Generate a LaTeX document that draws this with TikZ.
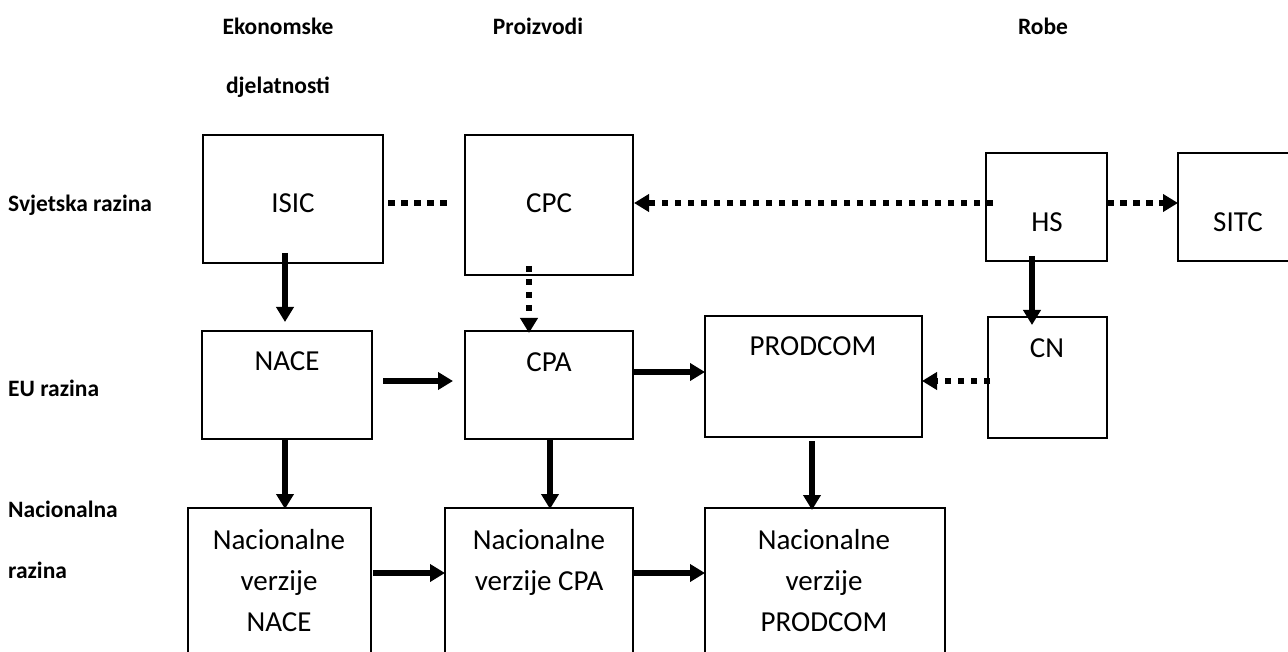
\documentclass[tikz,border=0pt]{standalone}
\usepackage{fontspec}
\setmainfont{Carlito}
\usetikzlibrary{arrows.meta}
\begin{document}
\begin{tikzpicture}[x=1pt,y=-1pt,
  box/.style={draw=black,line width=1.8pt,rectangle,inner sep=0pt,outer sep=0pt},
  btxt/.style={anchor=base,inner sep=0pt,font=\fontsize{29}{35}\selectfont},
  lbl/.style={anchor=base,inner sep=0pt,font=\fontsize{23.5}{28}\selectfont\bfseries},
  lbll/.style={anchor=base west,inner sep=0pt,font=\fontsize{23.5}{28}\selectfont\bfseries},
  solidarrow/.style={line width=5.5pt,-{Triangle[length=15pt,width=17pt]}},
  dotline/.style={line width=6pt,dash pattern=on 6.5pt off 6.5pt},
  dotarrow/.style={line width=6pt,dash pattern=on 6.5pt off 6.5pt,-{Triangle[length=15pt,width=17pt]}}
]
\useasboundingbox (0,0) rectangle (1288,652);
\clip (0,0) rectangle (1288,652);
\fill[white] (0,0) rectangle (1288,652);

% header labels
\node[lbl] (hEko) at (278,34.5) {Ekonomske};
\node[lbl] (hDje) at (278,94) {djelatnosti};
\node[lbl] (hPro) at (538,34.5) {Proizvodi};
\node[lbl] (hRob) at (1043,34.5) {Robe};
% row labels
\node[lbll] (rSvj) at (8,212) {Svjetska razina};
\node[lbll] (rEU) at (8,396) {EU razina};
\node[lbll] (rNac) at (8,517) {Nacionalna};
\node[lbll] (rRaz) at (8,578) {razina};

% boxes
\node[box,minimum width=180pt,minimum height=128pt] (isic) at (293,199) {};
\node[box,minimum width=168pt,minimum height=140pt] (cpc) at (549,205) {};
\node[box,minimum width=121pt,minimum height=108pt] (hs) at (1046.5,207) {};
\node[box,minimum width=132pt,minimum height=108pt] (sitc) at (1244,207) {};
\node[box,minimum width=170pt,minimum height=108pt] (nace) at (287,385) {};
\node[box,minimum width=168pt,minimum height=108pt] (cpa) at (549,385) {};
\node[box,minimum width=217pt,minimum height=121pt] (prodcom) at (813.5,376.5) {};
\node[box,minimum width=119pt,minimum height=121pt] (cn) at (1047.5,377.5) {};
\node[box,minimum width=183pt,minimum height=172pt] (nnace) at (279.5,594) {};
\node[box,minimum width=188pt,minimum height=172pt] (ncpa) at (539,594) {};
\node[box,minimum width=240pt,minimum height=172pt] (nprod) at (825,594) {};

% box texts
\node[btxt] (tIsic) at (293,212.3) {ISIC};
\node[btxt] (tCpc) at (549,212.3) {CPC};
\node[btxt] (tHs) at (1047,231.3) {HS};
\node[btxt] (tSitc) at (1238,231.3) {SITC};
\node[btxt] (tNace) at (287,370.3) {NACE};
\node[btxt] (tCpa) at (549,371.3) {CPA};
\node[btxt] (tProd) at (813,355.3) {PRODCOM};
\node[btxt] (tCn) at (1047,357.3) {CN};
\node[btxt] (tNn1) at (279,549) {Nacionalne};
\node[btxt] (tNn2) at (279,590) {verzije};
\node[btxt] (tNn3) at (279,631) {NACE};
\node[btxt] (tNc1) at (539,549) {Nacionalne};
\node[btxt] (tNc2) at (539,590) {verzije CPA};
\node[btxt] (tNp1) at (824,549) {Nacionalne};
\node[btxt] (tNp2) at (824,590) {verzije};
\node[btxt] (tNp3) at (824,631) {PRODCOM};

% connectors
\draw[solidarrow] ([xshift=-8pt,yshift=10pt]isic.south) -- ([xshift=-2pt,yshift=9pt]nace.north);
\draw[dotline] ([xshift=5pt,yshift=-4pt]isic.east) -- ([xshift=-12pt,yshift=2pt]cpc.west);
\draw[dotarrow] ([xshift=7pt,yshift=4pt]hs.west) -- ([xshift=1pt,yshift=2pt]cpc.east);
\draw[dotarrow] ([yshift=4pt]hs.east) -- ([yshift=4pt]sitc.west);
\draw[dotarrow] ([xshift=-20pt,yshift=9pt]cpc.south) -- ([xshift=-20pt,yshift=-2pt]cpa.north);
\draw[solidarrow] ([xshift=-14.5pt,yshift=5pt]hs.south) -- ([xshift=-15.5pt,yshift=-8pt]cn.north);
\draw[solidarrow] ([xshift=11pt,yshift=4pt]nace.east) -- ([xshift=-12pt,yshift=4pt]cpa.west);
\draw[solidarrow] ([xshift=1pt,yshift=13pt]cpa.east) -- ([yshift=4.5pt]prodcom.west);
\draw[dotarrow] ([xshift=2pt,yshift=-3.5pt]cn.west) -- ([yshift=-4.5pt]prodcom.east);
\draw[solidarrow] ([xshift=-2pt,yshift=-1pt]nace.south) -- ([xshift=5.5pt,yshift=-1pt]nnace.north);
\draw[solidarrow] ([xshift=1pt,yshift=-1pt]cpa.south) -- ([xshift=11pt,yshift=-1pt]ncpa.north);
\draw[solidarrow] ([xshift=-1.5pt,yshift=-4pt]prodcom.south) -- ([xshift=-13pt,yshift=-2pt]nprod.north);
\draw[solidarrow] ([xshift=2pt,yshift=21pt]nnace.east) -- ([yshift=21pt]ncpa.west);
\draw[solidarrow] ([yshift=21pt]ncpa.east) -- ([yshift=21pt]nprod.west);
\end{tikzpicture}
\end{document}
